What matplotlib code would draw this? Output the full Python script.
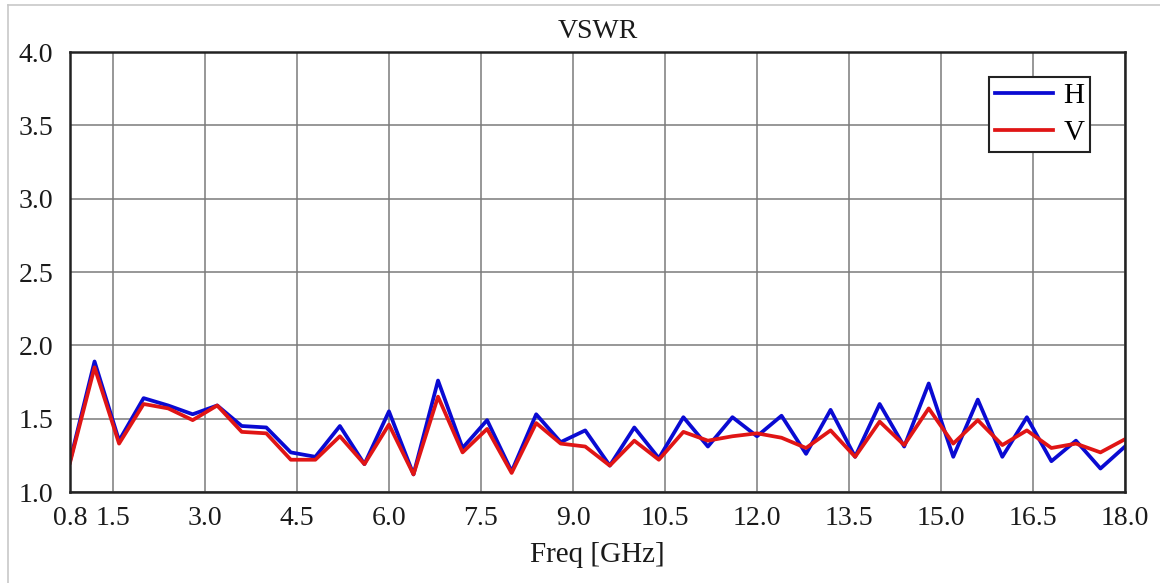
import numpy as np
import matplotlib
matplotlib.use("Agg")
import matplotlib.pyplot as plt
from matplotlib.lines import Line2D

freq = [0.8, 1.2, 1.6, 2.0, 2.4, 2.8, 3.2, 3.6, 4.0, 4.4, 4.8, 5.2, 5.6, 6.0, 6.4, 6.8,
        7.2, 7.6, 8.0, 8.4, 8.8, 9.2, 9.6, 10.0, 10.4, 10.8, 11.2, 11.6, 12.0, 12.4, 12.8,
        13.2, 13.6, 14.0, 14.4, 14.8, 15.2, 15.6, 16.0, 16.4, 16.8, 17.2, 17.6, 18.0]
vswr_h = [1.21, 1.89, 1.35, 1.64, 1.59, 1.53, 1.59, 1.45, 1.44, 1.27, 1.24, 1.45, 1.19, 1.55, 1.12, 1.76,
          1.30, 1.49, 1.14, 1.53, 1.34, 1.42, 1.18, 1.44, 1.23, 1.51, 1.31, 1.51, 1.38, 1.52, 1.26,
          1.56, 1.24, 1.60, 1.31, 1.74, 1.24, 1.63, 1.24, 1.51, 1.21, 1.35, 1.16, 1.31]
vswr_v = [1.20, 1.85, 1.33, 1.60, 1.57, 1.49, 1.59, 1.41, 1.40, 1.22, 1.22, 1.38, 1.19, 1.46, 1.12, 1.65,
          1.27, 1.43, 1.13, 1.47, 1.33, 1.31, 1.18, 1.35, 1.22, 1.41, 1.35, 1.38, 1.40, 1.37, 1.30,
          1.42, 1.24, 1.48, 1.32, 1.57, 1.33, 1.49, 1.32, 1.42, 1.30, 1.33, 1.27, 1.36]
xticks = [0.8, 1.5, 3.0, 4.5, 6.0, 7.5, 9.0, 10.5, 12.0, 13.5, 15.0, 16.5, 18.0]
yticks = [1.0, 1.5, 2.0, 2.5, 3.0, 3.5, 4.0]

plt.rcParams['font.family'] = ['Liberation Serif', 'DejaVu Serif']

fig = plt.figure(figsize=(11.6, 5.83), dpi=100)
ax = fig.add_axes([70/1160, 1 - 492/583, (1125-70)/1160, (492-52)/583])

# outer light frame
fig.add_artist(Line2D([8/1160, 8/1160], [0, 1 - 5/583], color='#c8c8c8', lw=1.2, transform=fig.transFigure))
fig.add_artist(Line2D([8/1160, 1], [1 - 5/583, 1 - 5/583], color='#c8c8c8', lw=1.2, transform=fig.transFigure))

ax.plot(freq, vswr_h, color='#0a0ad2', lw=2.7, label='H')
ax.plot(freq, vswr_v, color='#e01515', lw=2.7, label='V')

ax.set_xlim(0.8, 18.0)
ax.set_ylim(1.0, 4.0)
ax.set_xticks(xticks)
ax.set_xticklabels([f"{t:.1f}" for t in xticks])
ax.set_yticks(yticks)
ax.set_yticklabels([f"{t:.1f}" for t in yticks])
ax.grid(True, color='#7a7a7a', lw=1.1)
ax.set_axisbelow(True)
ax.tick_params(length=0, labelsize=20, colors='#1a1a1a')
ax.tick_params(axis='y', pad=12)
ax.tick_params(axis='x', pad=10)
for s in ax.spines.values():
    s.set_color('#222222')
    s.set_linewidth(1.8)

ax.set_title('VSWR', fontsize=20, pad=10, color='#1a1a1a')
ax.set_xlabel('Freq [GHz]', fontsize=21, labelpad=8, color='#1a1a1a')

leg = ax.legend(loc='upper right', bbox_to_anchor=(0.967, 0.943), fontsize=21,
                frameon=True, fancybox=False, shadow=False, framealpha=1,
                edgecolor='#222222', handlelength=2.0, handletextpad=0.35,
                borderpad=0.2, labelspacing=0.35, borderaxespad=0, markerfirst=True)
leg.get_frame().set_linewidth(1.5)
for l in leg.get_lines():
    l.set_linewidth(2.7)

fig.savefig('out.png', dpi=100)
